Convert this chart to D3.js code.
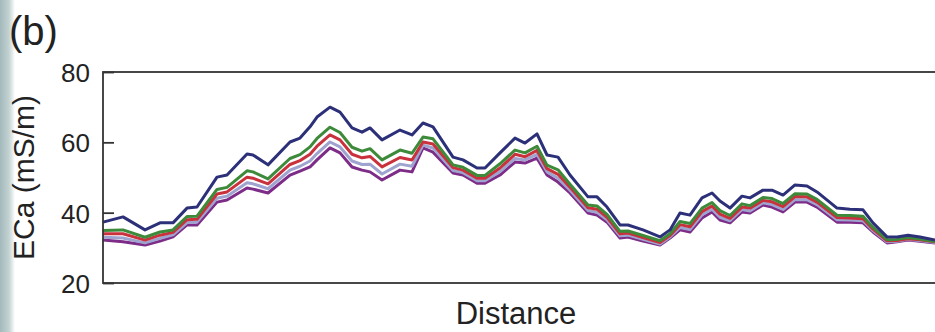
<!DOCTYPE html>
<html>
<head>
<meta charset="utf-8">
<script src="https://cdn.jsdelivr.net/npm/d3@7"></script>
<style>
  body { margin: 0; background: #fff; }
  svg { display: block; font-family: "Liberation Sans", Arial, Helvetica, sans-serif; }
</style>
</head>
<body>
<div id="chart"></div>
<script>
// distance along transect (arbitrary units, axis has no ticks)
const distance = [0,20,42,57,70,84,94,114,124,144,150,165,187,197,207,214,227,237,249,259,
  267,279,297,309,320,330,350,360,374,382,397,412,422,434,444,455,467,485,494,504,
  517,525,540,557,567,577,587,599,609,617,627,639,647,660,669,680,692,704,714,734,
  747,760,770,784,794,805,817,832];

// ECa (mS/m), one array per curve, top to bottom
const ecaNavy = [37.3,38.8,35.1,37.1,37.1,41.3,41.6,50.1,50.7,56.7,56.4,53.6,60.1,61.2,64.4,67.2,70.0,68.6,64.1,62.9,
  64.1,60.7,63.5,62.1,65.5,64.4,55.8,55.0,52.7,52.7,57.0,61.2,59.8,62.4,56.4,55.8,50.7,44.5,44.5,41.6,
  36.5,36.5,35.1,33.1,35.1,39.9,39.3,44.2,45.6,43.3,41.3,44.7,44.2,46.4,46.4,45.0,47.9,47.6,45.9,41.3,
  41.0,40.8,37.1,33.1,33.1,33.6,33.1,32.2];
const ecaGreen = [34.9,35.1,33.0,34.5,35.1,38.9,39.0,46.6,47.2,51.9,51.6,49.6,55.4,56.5,58.7,61.1,64.3,62.8,58.6,57.5,
  58.2,55.0,57.8,56.9,61.5,61.0,53.6,52.9,50.6,50.6,53.9,57.8,57.0,58.9,53.5,52.2,48.1,42.2,41.9,39.5,
  34.7,34.8,33.5,32.0,34.0,37.5,36.9,41.3,42.9,40.6,39.2,42.5,42.0,44.3,44.0,42.6,45.4,45.3,43.8,39.3,
  39.2,39.0,35.8,32.3,32.4,32.9,32.5,31.8];
const ecaRed = [34.0,34.0,32.2,33.6,34.4,38.0,38.1,45.3,45.9,50.1,49.8,48.2,53.7,54.8,56.6,58.9,62.1,60.7,56.6,55.6,
  56.0,53.0,55.7,55.0,60.1,59.5,52.8,52.1,49.8,49.8,52.7,56.6,55.9,57.7,52.5,50.9,47.2,41.4,41.0,38.7,
  34.0,34.2,32.9,31.5,33.5,36.6,36.0,40.3,41.9,39.6,38.4,41.6,41.3,43.5,43.1,41.7,44.6,44.5,43.0,38.6,
  38.5,38.3,35.3,32.0,32.1,32.6,32.3,31.7];
const ecaLightBlue = [33.0,32.8,31.4,32.7,33.7,37.2,37.3,44.1,44.7,48.5,48.2,46.8,52.1,53.2,54.7,56.8,60.1,58.7,54.7,53.7,
  53.8,51.0,53.8,53.2,59.2,58.4,52.0,51.4,49.1,49.1,51.7,55.4,55.0,56.6,51.6,49.8,46.4,40.6,40.1,38.0,
  33.4,33.6,32.4,31.1,33.1,35.8,35.2,39.4,41.0,38.7,37.7,40.9,40.5,42.8,42.3,40.9,43.7,43.7,42.3,38.0,
  37.9,37.7,34.9,31.7,31.9,32.4,32.1,31.5];
const ecaPurple = [32.2,31.7,30.8,31.9,33.1,36.5,36.5,43.0,43.6,47.0,46.7,45.6,50.7,51.8,53.0,55.0,58.4,57.0,53.0,52.1,
  51.6,49.3,52.1,51.6,58.4,57.2,51.3,50.7,48.4,48.4,50.7,54.4,54.1,55.5,50.7,48.7,45.6,39.9,39.3,37.3,
  32.8,33.1,31.9,30.8,32.8,35.1,34.5,38.5,40.2,37.9,37.1,40.2,39.9,42.2,41.6,40.2,43.0,43.0,41.6,37.3,
  37.3,37.1,34.5,31.4,31.7,32.2,31.9,31.4];

const yTicks = [20, 40, 60, 80];
const panelLabel = "(b)";
const yLabel = "ECa (mS/m)";
const xLabel = "Distance";

const curves = [
  { values: ecaPurple, color: "#7d2c88" },
  { values: ecaLightBlue, color: "#9ea3cf" },
  { values: ecaRed, color: "#c9313c" },
  { values: ecaGreen, color: "#3d8a3a" },
  { values: ecaNavy, color: "#2c3079" }
];

const width = 935, height = 332;
const margin = { left: 103, top: 72, bottom: 49 };
const plotRight = 945; // frame runs past the picture edge

const svg = d3.select("#chart").append("svg")
  .attr("width", width)
  .attr("height", height);

// faint photo strip on the left edge
const grad = svg.append("defs").append("linearGradient")
  .attr("id", "edge")
  .attr("x1", 0).attr("x2", 1).attr("y1", 0).attr("y2", 0);
grad.append("stop").attr("offset", 0).attr("stop-color", "#a3b9bc");
grad.append("stop").attr("offset", 0.6).attr("stop-color", "#c3d2d2");
grad.append("stop").attr("offset", 1).attr("stop-color", "#ffffff");
svg.append("rect")
  .attr("x", 0).attr("y", 0)
  .attr("width", 15).attr("height", height)
  .attr("fill", "url(#edge)");

const xScale = d3.scaleLinear()
  .domain([0, 842])
  .range([margin.left, plotRight]);

const yScale = d3.scaleLinear()
  .domain([20, 80])
  .range([height - margin.bottom, margin.top]);

// curves
const line = d3.line()
  .x((d, i) => xScale(distance[i]))
  .y(d => yScale(d));

svg.append("g")
  .selectAll("path")
  .data(curves)
  .enter()
  .append("path")
  .attr("d", d => line(d.values))
  .style("fill", "none")
  .style("stroke", d => d.color)
  .style("stroke-width", 3)
  .style("stroke-linejoin", "round");

// frame
svg.append("rect")
  .attr("x", xScale.range()[0])
  .attr("y", yScale.range()[1])
  .attr("width", plotRight - margin.left)
  .attr("height", yScale.range()[0] - yScale.range()[1])
  .style("fill", "none")
  .style("stroke", "#333")
  .style("stroke-width", 1.8);

// y axis, ticks pointing in
const yAxis = svg.append("g")
  .attr("transform", "translate(" + margin.left + ",0)")
  .call(d3.axisLeft(yScale)
    .tickValues(yTicks)
    .tickSizeInner(-11)
    .tickSizeOuter(0)
    .tickPadding(13));
yAxis.select(".domain").remove();
yAxis.selectAll("line").style("stroke", "#333").style("stroke-width", 1.8);
yAxis.selectAll("text")
  .style("font-size", "26px")
  .style("fill", "#222")
  .attr("dy", "0.36em");

svg.append("text")
  .attr("transform", "rotate(-90)")
  .attr("x", -(margin.top + yScale.range()[0]) / 2)
  .attr("y", 34)
  .style("text-anchor", "middle")
  .style("font-size", "30px")
  .style("fill", "#222")
  .text(yLabel);

svg.append("text")
  .attr("x", 516)
  .attr("y", 324)
  .style("text-anchor", "middle")
  .style("font-size", "31px")
  .style("fill", "#222")
  .text(xLabel);

svg.append("text")
  .attr("x", 9)
  .attr("y", 45)
  .style("font-size", "40px")
  .style("fill", "#222")
  .text(panelLabel);
</script>
</body>
</html>
